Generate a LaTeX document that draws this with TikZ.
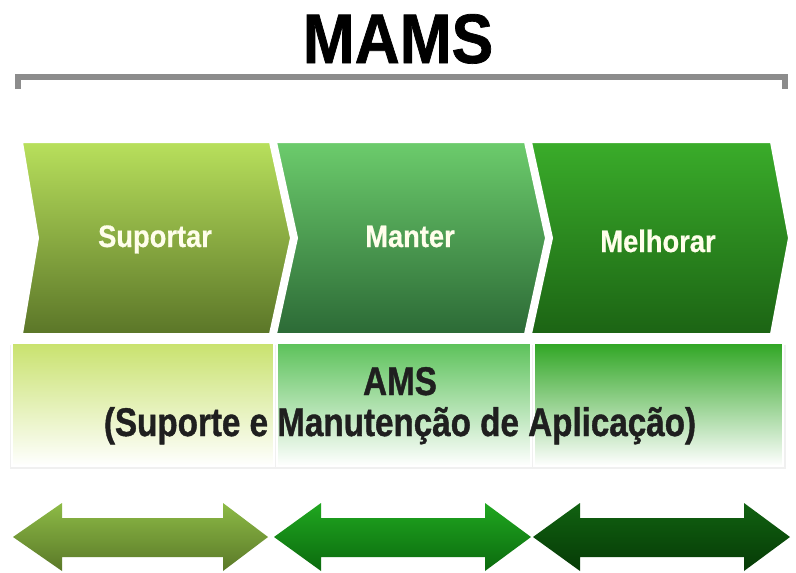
\documentclass[tikz,border=0pt]{standalone}
\usepackage{fontspec}
\setmainfont{Liberation Sans}
\newfontfamily\titlefont{Liberation Sans}[FakeStretch=0.89,FakeBold=1]
\newfontfamily\lblfont{Liberation Sans}[FakeStretch=0.88,FakeBold=0.6]
\newfontfamily\amsfont{Liberation Sans}[FakeStretch=0.83,FakeBold=1]
\begin{document}
\begin{tikzpicture}[x=1pt,y=-1pt,
  lbl/.style={font=\lblfont\fontsize{31}{34}\selectfont\bfseries, text=white!92!yellow, inner sep=0pt, anchor=base},
  amstxt/.style={font=\amsfont\fontsize{40}{44}\selectfont\bfseries, text=black!88, inner sep=0pt, anchor=base},
  chev/.style={draw=white, line width=2pt},
  box/.style={draw=white, line width=1.5pt}]
\definecolor{cA1}{HTML}{B8E05C}\definecolor{cA2}{HTML}{5B7628}
\definecolor{cB1}{HTML}{6CCC6C}\definecolor{cB2}{HTML}{2C6A36}
\definecolor{cC1}{HTML}{3AAC2A}\definecolor{cC2}{HTML}{1C6414}
\definecolor{bA}{HTML}{C9E26E}\definecolor{bB}{HTML}{5CC25A}\definecolor{bC}{HTML}{30A624}
\definecolor{aA1}{HTML}{8DBB46}\definecolor{aA2}{HTML}{5A7828}
\definecolor{aB1}{HTML}{20A720}\definecolor{aB2}{HTML}{0B6A0E}
\definecolor{aC1}{HTML}{116211}\definecolor{aC2}{HTML}{063A06}
\definecolor{barg}{HTML}{8C8C8C}
\useasboundingbox (0,0) rectangle (796,573);
\fill[white] (0,0) rectangle (796,573);
% title
\node[font=\titlefont\fontsize{70}{72}\selectfont\bfseries, inner sep=0pt, anchor=base] (title) at (398,63) {MAMS};
% bracket bar
\draw[barg, line width=6pt] (18,89) -- (18,77) -- (785,77) -- (785,89);
% chevrons
\shade[chev, top color=cA1, bottom color=cA2] (22,142) -- (270,142) -- (291,238) -- (270,334) -- (22,334) -- (38,238) -- cycle;
\shade[chev, top color=cB1, bottom color=cB2] (276,142) -- (525,142) -- (546,238) -- (525,334) -- (276,334) -- (297,238) -- cycle;
\shade[chev, top color=cC1, bottom color=cC2] (531,142) -- (771,142) -- (789,238) -- (771,334) -- (531,334) -- (552,238) -- cycle;
\node[lbl] (s1) at (155,247) {Suportar};
\node[lbl] (s2) at (410,247) {Manter};
\node[lbl] (s3) at (658,252) {Melhorar};
% boxes with faint shadow
\fill[black!6] (10,345) rectangle (786,469);
\shade[box, top color=bA, middle color=bA!75, bottom color=white] (12,343) rectangle (274,466);
\shade[box, top color=bB, middle color=bB!55, bottom color=white] (277,343) rectangle (531,466);
\shade[box, top color=bC, middle color=bC!70, bottom color=white] (534,343) rectangle (783,466);
\node[amstxt] (ams) at (400,395) {AMS};
\node[amstxt] (amsfull) at (400,436) {(Suporte e Manutenção de Aplicação)};
% double arrows
\shade[top color=aA1, bottom color=aA2] (13,537) -- (62,503) -- (62,518) -- (223,518) -- (223,503) -- (268,537) -- (223,571) -- (223,557) -- (62,557) -- (62,571) -- cycle;
\shade[top color=aB1, bottom color=aB2] (274,537) -- (321,503) -- (321,518) -- (485,518) -- (485,503) -- (531,537) -- (485,571) -- (485,557) -- (321,557) -- (321,571) -- cycle;
\shade[top color=aC1, bottom color=aC2] (533,537) -- (580,503) -- (580,518) -- (744,518) -- (744,503) -- (790,537) -- (744,571) -- (744,557) -- (580,557) -- (580,571) -- cycle;
\end{tikzpicture}
\end{document}
